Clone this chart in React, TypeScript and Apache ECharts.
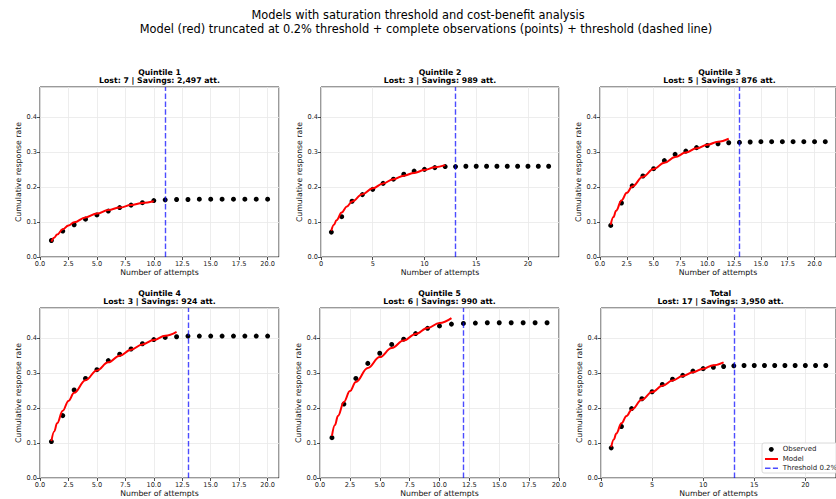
import React, { useEffect, useRef } from "react";
import * as echarts from "echarts";

// ---- data ----
const panelNames = ["Quintile 1", "Quintile 2", "Quintile 3", "Quintile 4", "Quintile 5", "Total"];
const lostCounts = [7, 3, 5, 3, 6, 17];
const savingsLabels = ["2,497", "989", "876", "924", "990", "3,950"];
const thresholds = [11, 13, 13, 13, 12, 13];
const xAxisMax = [21, 23, 22, 21, 20, 23];
const xTickStep = [2.5, 5, 2.5, 2.5, 2.5, 5];

const obsQ1 = [0.047, 0.074, 0.092, 0.108, 0.120, 0.131, 0.141, 0.148, 0.155, 0.161, 0.163, 0.164, 0.164, 0.165, 0.165, 0.165, 0.165, 0.165, 0.165, 0.165];
const obsQ2 = [0.071, 0.115, 0.159, 0.178, 0.193, 0.210, 0.222, 0.236, 0.245, 0.250, 0.255, 0.258, 0.258, 0.259, 0.259, 0.259, 0.259, 0.259, 0.259, 0.259, 0.259, 0.259];
const obsQ3 = [0.090, 0.154, 0.203, 0.231, 0.252, 0.275, 0.293, 0.302, 0.312, 0.318, 0.323, 0.326, 0.327, 0.328, 0.329, 0.329, 0.329, 0.329, 0.329, 0.329, 0.329];
const obsQ4 = [0.104, 0.178, 0.251, 0.284, 0.309, 0.335, 0.353, 0.368, 0.383, 0.395, 0.401, 0.403, 0.405, 0.405, 0.405, 0.405, 0.405, 0.405, 0.405, 0.405];
const obsQ5 = [0.115, 0.211, 0.284, 0.327, 0.356, 0.381, 0.396, 0.412, 0.427, 0.434, 0.439, 0.441, 0.442, 0.443, 0.443, 0.443, 0.443, 0.443, 0.443];
const obsTotal = [0.086, 0.147, 0.198, 0.226, 0.246, 0.267, 0.282, 0.293, 0.305, 0.312, 0.316, 0.318, 0.320, 0.321, 0.321, 0.321, 0.321, 0.321, 0.321, 0.321, 0.321, 0.321];

// model curve sampled at these attempt values
const modelX = [1, 1.25, 1.5, 2, 2.5, 3, 4, 5, 6, 7, 8, 9, 10, 11, 12];
const modelQ1 = [0.044, 0.055, 0.064, 0.079, 0.090, 0.099, 0.113, 0.124, 0.134, 0.141, 0.148, 0.154, 0.159];
const modelQ2 = [0.075, 0.092, 0.105, 0.127, 0.144, 0.158, 0.179, 0.196, 0.210, 0.222, 0.232, 0.240, 0.248, 0.256, 0.262];
const modelQ3 = [0.092, 0.114, 0.132, 0.161, 0.183, 0.201, 0.229, 0.251, 0.269, 0.285, 0.298, 0.310, 0.320, 0.329, 0.338];
const modelQ4 = [0.105, 0.133, 0.156, 0.192, 0.220, 0.243, 0.279, 0.307, 0.330, 0.349, 0.366, 0.381, 0.394, 0.406, 0.417];
const modelQ5 = [0.120, 0.151, 0.177, 0.217, 0.248, 0.274, 0.314, 0.345, 0.371, 0.392, 0.411, 0.428, 0.442, 0.456];
const modelTotal = [0.088, 0.110, 0.127, 0.156, 0.177, 0.195, 0.223, 0.245, 0.263, 0.278, 0.291, 0.302, 0.312, 0.322, 0.330];

const yTicks = [0, 0.1, 0.2, 0.3, 0.4];
const yMax = 0.485;

const observed = [obsQ1, obsQ2, obsQ3, obsQ4, obsQ5, obsTotal];
const models = [modelQ1, modelQ2, modelQ3, modelQ4, modelQ5, modelTotal];

// ---- layout ----
const grids = [
  { left: 40, top: 87, width: 239, height: 170 },
  { left: 321, top: 87, width: 238, height: 170 },
  { left: 600, top: 87, width: 239, height: 170 },
  { left: 40, top: 308, width: 239, height: 170 },
  { left: 320, top: 308, width: 239, height: 170 },
  { left: 601, top: 308, width: 239, height: 170 },
];

const FONT = "DejaVu Sans";

export default function App() {
  const ref = useRef<HTMLDivElement>(null);
  useEffect(() => {
    if (!ref.current) return;
    const chart = echarts.init(ref.current, undefined, { renderer: "svg" });

    const xAxes: any[] = [];
    const yAxes: any[] = [];
    const series: any[] = [];
    const graphics: any[] = [];

    grids.forEach((g, i) => {
      const step = xTickStep[i];
      xAxes.push({
        type: "value",
        gridIndex: i,
        min: 0,
        max: xAxisMax[i],
        interval: step,
        name: "Number of attempts",
        nameLocation: "middle",
        nameGap: 11,
        nameTextStyle: { fontFamily: FONT, fontSize: 7.75, color: "#111" },
        axisLine: { show: false },
        axisTick: { show: true, length: 3, lineStyle: { color: "#222", width: 0.8 } },
        axisLabel: {
          fontFamily: FONT,
          fontSize: 6.6,
          color: "#222",
          margin: 3,
          showMaxLabel: xAxisMax[i] % step === 0,
          formatter: (v: number) => {
            const k = v / step;
            if (Math.abs(k - Math.round(k)) > 1e-6) return "";
            return step === 2.5 ? v.toFixed(1) : String(v);
          },
        },
        splitLine: { show: true, lineStyle: { color: "#e9e9e9", width: 0.8 } },
      });
      yAxes.push({
        type: "value",
        gridIndex: i,
        min: 0,
        max: yMax,
        interval: 0.1,
        name: "Cumulative response rate",
        nameLocation: "middle",
        nameGap: 16,
        nameTextStyle: { fontFamily: FONT, fontSize: 7.75, color: "#111" },
        axisLine: { show: false },
        axisTick: { show: true, length: 3, lineStyle: { color: "#222", width: 0.8 } },
        axisLabel: {
          fontFamily: FONT,
          fontSize: 6.6,
          color: "#222",
          margin: 3,
          showMaxLabel: false,
          formatter: (v: number) => {
            const k = v / 0.1;
            if (Math.abs(k - Math.round(k)) > 1e-6) return "";
            return yTicks.indexOf(Math.round(k) / 10) >= 0 ? v.toFixed(1) : "";
          },
        },
        splitLine: { show: true, lineStyle: { color: "#e9e9e9", width: 0.8 } },
      });

      series.push({
        type: "scatter",
        xAxisIndex: i,
        yAxisIndex: i,
        symbol: "circle",
        symbolSize: 5,
        itemStyle: { color: "#000", opacity: 1 },
        data: observed[i].map((v, j) => [j + 1, v]),
        z: 3,
        markLine: {
          silent: true,
          symbol: ["none", "none"],
          label: { show: false },
          lineStyle: { color: "rgba(0,0,255,0.7)", type: [5.5, 2.4], width: 1.4 },
          data: [{ xAxis: thresholds[i] }],
        },
      });
      series.push({
        type: "line",
        xAxisIndex: i,
        yAxisIndex: i,
        showSymbol: false,
        symbol: "none",
        smooth: 0.4,
        smoothMonotone: "x",
        lineStyle: { color: "#ff0000", width: 2 },
        data: models[i].map((v, j) => [modelX[j], v]),
        z: 4,
      });

      const cx = g.left + g.width / 2;
      graphics.push({
        type: "text",
        x: cx,
        y: g.top - 15,
        style: {
          text: panelNames[i],
          align: "center",
          verticalAlign: "middle",
          font: `bold 7.75px "${FONT}"`,
          fill: "#000",
        },
      });
      graphics.push({
        type: "text",
        x: cx,
        y: g.top - 6.5,
        style: {
          text: `Lost: ${lostCounts[i]} | Savings: ${savingsLabels[i]} att.`,
          align: "center",
          verticalAlign: "middle",
          font: `bold 7.75px "${FONT}"`,
          fill: "#000",
        },
      });
    });

    // figure titles
    graphics.push({
      type: "text",
      x: 418,
      y: 15,
      style: {
        text: "Models with saturation threshold and cost-benefit analysis",
        align: "center",
        verticalAlign: "middle",
        font: `11.4px "${FONT}"`,
        fill: "#000",
      },
    });
    graphics.push({
      type: "text",
      x: 426,
      y: 28.5,
      style: {
        text: "Model (red) truncated at 0.2% threshold + complete observations (points) + threshold (dashed line)",
        align: "center",
        verticalAlign: "middle",
        font: `11.4px "${FONT}"`,
        fill: "#000",
      },
    });

    // legend in Total panel
    const lx = 762;
    const ly = 443;
    graphics.push({
      type: "rect",
      shape: { x: lx, y: ly, width: 80, height: 30, r: 2 },
      style: { fill: "rgba(255,255,255,0.85)", stroke: "#d0d0d0", lineWidth: 0.8 },
      z: 100,
    });
    graphics.push({
      type: "circle",
      shape: { cx: 771.3, cy: 449.3, r: 2.4 },
      style: { fill: "#000" },
      z: 101,
    });
    graphics.push({
      type: "line",
      shape: { x1: 765, y1: 459, x2: 778, y2: 459 },
      style: { stroke: "#ff0000", lineWidth: 2 },
      z: 101,
    });
    graphics.push({
      type: "line",
      shape: { x1: 765, y1: 468.3, x2: 778, y2: 468.3 },
      style: { stroke: "rgba(0,0,255,0.7)", lineWidth: 1.4, lineDash: [5.5, 2.4] },
      z: 101,
    });
    ["Observed", "Model", "Threshold 0.2%"].forEach((t, k) => {
      graphics.push({
        type: "text",
        x: 782.7,
        y: 449.3 + k * 9.5,
        style: { text: t, align: "left", verticalAlign: "middle", font: `7px "${FONT}"`, fill: "#222" },
        z: 101,
      });
    });

    chart.setOption({
      animation: false,
      backgroundColor: "#fff",
      grid: grids.map((g) => ({
        ...g,
        containLabel: false,
        show: true,
        borderColor: "#000",
        borderWidth: 0.8,
        backgroundColor: "transparent",
      })),
      xAxis: xAxes,
      yAxis: yAxes,
      series,
      graphic: graphics,
    });

    return () => chart.dispose();
  }, []);

  return (
    <div
      ref={ref}
      style={{ position: "absolute", left: 0, top: 0, width: 836, height: 499 }}
    />
  );
}
